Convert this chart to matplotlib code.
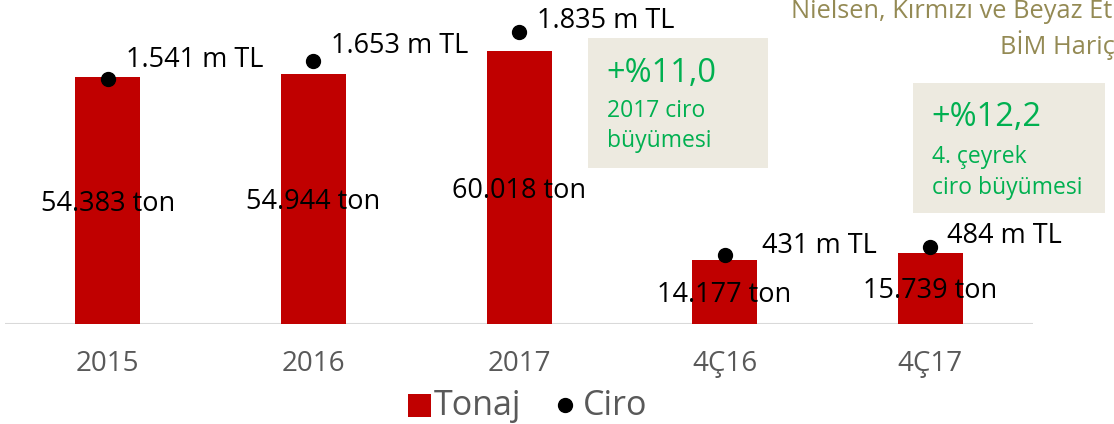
import matplotlib
matplotlib.use("Agg")
import matplotlib.pyplot as plt
from matplotlib.patches import Rectangle

categories = ["2015", "2016", "2017", "4Ç16", "4Ç17"]
tonaj = [54383, 54944, 60018, 14177, 15739]
ciro = [1541, 1653, 1835, 431, 484]
tonaj_labels = ["54.383 ton", "54.944 ton", "60.018 ton", "14.177 ton", "15.739 ton"]
ciro_labels = ["1.541 m TL", "1.653 m TL", "1.835 m TL", "431 m TL", "484 m TL"]

W, H = 1114, 424
DPI = 100
plt.rcParams['font.family'] = ['Open Sans', 'DejaVu Sans']

fig = plt.figure(figsize=(W / DPI, H / DPI), dpi=DPI)
fig.patch.set_facecolor("white")

def fx(x):
    return x / W

def fy(y):
    return 1 - y / H

ax_left, ax_right, ax_bottom, ax_top = 5, 1033, 324, 0
ax = fig.add_axes([fx(ax_left), fy(ax_bottom), fx(ax_right - ax_left), (ax_bottom - ax_top) / H])
ax2 = ax.twinx()

x = list(range(len(categories)))
bar_w = 65 / 205.6
ax.bar(x, tonaj, width=bar_w, color="#C00000", zorder=2)
ax.set_xlim(-0.5, len(categories) - 0.5)
ax.set_ylim(0, 324 * 220.2)
ax2.set_ylim(0, 324 * 6.29)

for i, (t, lab) in enumerate(zip(tonaj, tonaj_labels)):
    ax.annotate(lab, (i, t / 2), xytext=(0, -3 * 0.72), textcoords="offset points",
                ha="center", va="center", fontsize=19.5, color="black", zorder=5)

ax2.scatter(x, ciro, s=100, color="black", zorder=4)
label_offsets = [(18, 19), (18, 15), (18, 11), (37, 9), (17, 11)]
for i, (c, lab) in enumerate(zip(ciro, ciro_labels)):
    dx, dy = label_offsets[i]
    ax2.annotate(lab, (i, c), xytext=(dx * 0.72, dy * 0.72), textcoords="offset points",
                 ha="left", va="center", fontsize=19.5, color="black")

for a in (ax, ax2):
    for s in a.spines.values():
        s.set_visible(False)
    a.set_yticks([])
    a.patch.set_alpha(0)
ax.set_xticks(x)
ax.set_xticklabels(categories, fontsize=20, color="#595959")
ax.tick_params(axis="x", length=0, pad=19)
ax.axhline(0, color="#D9D9D9", lw=1.5, zorder=1)

# green boxes
def box(x0, y0, x1, y1):
    fig.patches.append(Rectangle((fx(x0), fy(y1)), fx(x1 - x0), (y1 - y0) / H,
                                 transform=fig.transFigure, facecolor="#EDEAE0", edgecolor="none", zorder=0))

green = "#00B050"
box(588, 38, 768, 168)
fig.text(fx(606), fy(73), "+%11,0", fontsize=23.5, color=green, va="center", ha="left")
fig.text(fx(607), fy(111), "2017 ciro", fontsize=16.5, color=green, va="center", ha="left")
fig.text(fx(607), fy(141), "büyümesi", fontsize=16.5, color=green, va="center", ha="left")

box(913, 83, 1105, 213)
fig.text(fx(931), fy(117), "+%12,2", fontsize=23.5, color=green, va="center", ha="left")
fig.text(fx(932), fy(157), "4. çeyrek", fontsize=16.5, color=green, va="center", ha="left")
fig.text(fx(932), fy(188), "ciro büyümesi", fontsize=16.5, color=green, va="center", ha="left")

olive = "#948A54"
fig.text(fx(791), fy(12), "Nielsen, Kırmızı ve Beyaz Et", fontsize=18.3, color=olive, va="center", ha="left")
fig.text(fx(1000), fy(45), "BİM Hariç", fontsize=18.3, color=olive, va="center", ha="left")

# legend
fig.patches.append(Rectangle((fx(408), fy(417)), fx(23), 23 / H, transform=fig.transFigure,
                             facecolor="#C00000", edgecolor="none"))
fig.text(fx(434), fy(406), "Tonaj", fontsize=24.5, color="#595959", va="center", ha="left")
fig.lines.append(plt.Line2D([fx(565)], [fy(405)], marker="o", markersize=10, color="black",
                            transform=fig.transFigure))
fig.text(fx(583), fy(406), "Ciro", fontsize=24.5, color="#595959", va="center", ha="left")

fig.savefig("out.png", dpi=DPI, facecolor="white")
